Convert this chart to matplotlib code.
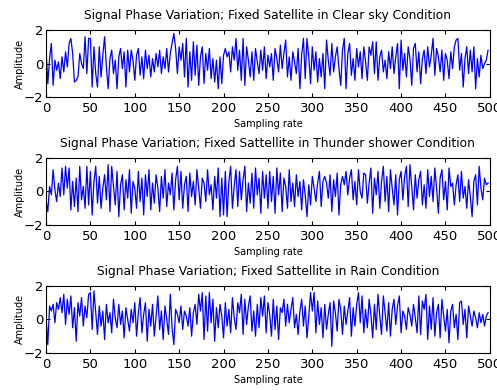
import numpy as np
import matplotlib
matplotlib.use("Agg")
import matplotlib.pyplot as plt

# amplitude, every 2nd sample (0..498)
clear_sky = [
    0.9, -1.2, 0.3, 1.2, -1.3, 0.2, -0.4, 0.1, -0.9, 0.4, -0.5, 0.7,
    -0.2, 1.2, 1.5, 0.6, -1.1, -1.0, -0.8, 0.6, 0.0, -0.3, 1.6, -0.6,
    1.5, 1.5, -1.4, 1.0, -0.6, -1.4, 1.0, -0.8, 0.5, 1.6, -0.2, -1.5,
    0.3, 0.8, -0.6, 0.2, -1.5, 0.4, 0.9, -0.3, 0.7, -1.4, 0.8, -0.5,
    0.8, 0.2, -1.0, 0.5, 0.9, -0.7, 0.4, -0.9, 0.8, -0.3, 0.5, -0.8,
    0.3, -0.5, 0.6, -0.2, 0.8, -0.6, 0.4, -0.3, 0.9, -0.5, 0.6, 1.2,
    1.8, 0.9, -0.6, 1.0, 0.2, 1.2, -0.8, 1.5, -1.4, 0.7, -1.0, 1.3,
    -0.7, 1.1, -1.3, 0.4, 1.0, -1.2, 0.6, -0.4, 0.9, -0.9, 0.3, -1.1,
    0.2, -1.5, 0.4, -1.2, 0.5, 0.9, 0.4, 0.7, -0.5, 1.0, 0.2, 1.5,
    -0.4, 0.8, -1.0, 1.5, -1.3, 1.0, 0.2, -0.8, 0.7, -1.0, 0.9, 0.1,
    -0.6, 0.8, -0.4, 1.0, -0.9, 0.5, -0.2, 0.6, -1.0, 0.9, 0.3, -0.5,
    1.1, -0.3, 0.6, 1.4, -0.8, 0.4, -1.0, 0.7, 0.1, -0.6, 0.9, -1.5,
    0.5, 1.5, -0.9, 1.5, 0.4, -1.2, 1.0, -0.4, 0.7, -1.1, 0.3, -0.8,
    0.6, -1.5, 1.4, 0.2, -0.7, 1.2, -0.5, 0.4, 1.0, -0.3, -1.3, 0.8,
    1.5, -1.5, 0.6, 1.2, -0.7, 0.3, -1.0, 0.9, -0.2, 0.7, -0.9, 1.0,
    0.1, -1.0, 1.0, 0.5, 1.3, -0.6, 1.3, -1.0, 0.4, 0.8, -0.5, 0.2,
    -0.9, 0.7, -0.3, 1.0, -0.6, 0.4, 1.2, -1.5, 1.4, -0.4, 0.6, -0.8,
    1.0, 0.3, -1.3, 0.9, 1.2, -0.5, 0.7, -1.2, 0.3, 0.8, -0.6, 1.0,
    -0.2, 0.5, 1.5, -0.7, 0.9, 0.4, -0.5, 0.8, -1.0, 0.6, 0.2, -0.9,
    0.7, -0.3, 1.0, 1.4, 1.5, -0.4, 0.6, -1.4, 0.3, 1.0, -0.6, 0.8,
    -0.5, 1.0, -1.5, 0.3, -0.8, 0.5, -0.3, 0.0, 0.2, 0.8,
]

thunder = [
    -0.5, -1.2, 0.3, -0.2, 1.3, 0.1, -0.6, 0.5, -0.3, 1.4, -0.2, 1.5,
    0.2, 1.4, -1.1, 0.6, -0.9, 0.8, -1.2, 1.5, -0.5, 0.3, -1.0, 1.5,
    -0.8, 1.2, -1.4, 0.6, 1.5, -0.7, 0.9, -1.0, 0.2, 1.0, -0.5, 1.6,
    -1.2, 1.5, 0.3, -0.8, 1.2, -1.5, 0.4, 1.0, -1.1, 0.7, -0.4, 1.3,
    -1.3, 0.6, 0.2, -1.0, 1.2, -0.6, 0.8, -1.4, 1.0, -0.3, 1.3, -1.1,
    0.5, -0.7, 1.0, 0.2, -1.2, 0.9, -0.4, 1.3, -0.9, 0.5, -0.2, 1.1,
    -1.1, 0.7, 1.5, -0.5, 1.2, -1.0, 0.4, 0.9, -1.2, 1.1, -0.3, 0.6,
    -0.8, 1.3, 0.2, -1.0, 0.8, 0.5, -0.6, 1.3, -0.2, 0.4, -1.1, 0.9,
    -0.4, 1.4, -1.5, 0.8, -1.4, 1.2, -1.5, 0.6, 1.5, -1.0, 0.3, 1.3,
    -0.9, 1.2, -0.5, 0.7, 1.5, -1.2, 0.5, -0.7, 1.1, -1.0, 1.4, -0.2,
    0.8, -1.3, 1.2, -0.4, 1.0, -1.0, 1.2, -0.6, 0.9, -1.3, 1.4, -0.2,
    1.1, -1.2, 0.8, 0.3, -1.0, 1.3, -0.6, 0.5, -0.9, 1.0, -0.3, 0.6,
    -1.1, 0.7, -0.2, -1.5, 0.4, -0.8, 0.9, 0.2, -0.6, 0.5, 1.2, -0.9,
    0.6, 0.9, 0.5, -0.4, 1.0, -1.2, 0.7, -0.3, 1.1, -1.4, 0.4, 0.9,
    0.4, 1.2, -0.2, 0.8, 1.3, -0.5, 0.6, -0.8, 1.3, 0.0, -0.4, 1.1,
    1.0, -0.7, 0.5, 1.4, -1.3, 0.8, -0.2, 1.2, -1.0, 0.6, 1.5, -0.6,
    0.9, -1.2, 1.3, 0.2, -0.8, 1.0, -1.4, 0.7, 1.2, -0.5, 0.9, 1.5,
    -0.9, 1.6, 0.3, -1.1, 1.0, -0.4, 0.7, 1.2, -0.8, 0.4, -1.0, 1.3,
    -0.3, 0.9, -0.6, 1.4, 0.2, -1.3, 0.8, 1.3, -0.5, 0.6, -1.1, 1.4,
    0.3, 0.5, -0.8, 0.4, 1.0, -0.6, 1.2, -0.4, 0.3, -1.0, 0.7, -0.3,
    -1.5, 0.6, 1.0, -0.8, 1.5, 0.2, -0.5, 0.8, 0.4, 0.5,
]

rain = [
    0.2, -1.5, 0.8, 0.5, 0.9, -0.2, 1.0, 0.6, 1.3, 0.4, 1.5, -0.3,
    1.2, 0.3, 1.4, -0.5, 0.7, -1.3, 1.0, 0.2, 1.3, -0.4, 0.8, 0.1,
    1.5, 1.6, -0.6, 1.7, 0.4, -0.9, 0.8, -0.4, 0.5, -1.2, 0.9, -0.2,
    0.4, -0.8, 1.2, 0.1, -0.5, 0.9, -0.3, 0.5, -1.1, 0.7, 0.0, -0.7,
    0.6, -0.2, 1.0, -1.0, 0.4, 1.3, -0.8, 0.3, 1.0, -1.3, 0.6, -0.4,
    0.9, -1.0, 0.2, 1.4, -0.6, 0.5, -1.2, 0.8, 0.0, -0.9, 1.5, -0.5,
    -1.5, 0.6, 0.3, -0.2, 0.8, -0.6, 0.5, 0.2, -0.4, 0.7, -1.0, 0.4,
    0.9, -0.3, 1.5, 0.5, 1.6, -1.2, 1.4, -0.7, 1.6, -0.2, 1.2, -1.3,
    0.7, -0.5, 0.9, 0.2, -1.1, 1.0, -0.4, 0.6, -0.8, 1.3, 0.1, -0.6,
    1.0, 0.4, 1.5, -0.9, 1.2, -0.3, 0.8, 1.4, -0.7, 0.5, -1.0, 0.9,
    -0.5, 1.3, 0.2, 1.4, -0.8, 1.0, 0.3, -1.0, 1.2, -0.6, 0.8, -1.2,
    0.7, 0.4, 1.2, -0.4, 0.9, -0.2, 0.6, 1.3, -0.5, 0.3, -0.9, 0.5,
    1.2, -0.4, 0.8, -1.1, 0.2, 1.6, 0.5, 1.6, -0.8, 1.1, -0.3, 0.7,
    -1.1, 0.9, -0.6, 0.3, 1.0, -1.6, 1.1, 0.4, -0.7, 1.2, 0.6, -0.9,
    0.8, -0.3, 0.5, 1.3, -1.0, 0.7, -0.4, 0.9, 1.6, -0.2, 1.4, -0.8,
    0.6, -0.5, 1.2, 0.3, -1.1, 0.9, -0.6, 1.5, 0.2, -0.9, 1.4, 0.4,
    -0.7, 1.0, -1.0, 0.6, 1.2, -0.3, 0.8, 1.4, -0.8, 0.5, 0.2, -0.6,
    0.7, 0.3, -0.4, 0.9, 0.1, -0.8, 1.4, -0.9, 1.1, 0.6, 1.5, -1.2,
    0.8, -0.6, 1.3, -1.0, 0.4, 0.9, -1.1, 1.2, 0.2, -0.7, 0.6, -1.4,
    0.5, 0.9, -0.5, 0.3, -1.2, 1.0, 1.1, -0.3, 0.6, -1.1, 0.8, 0.2,
    -0.4, 0.5, 0.1, -0.5, 0.4, -0.2, 0.3, -0.4, 0.2, 0.4,
]

titles = [
    "Signal Phase Variation; Fixed Satellite in Clear sky Condition",
    "Signal Phase Variation; Fixed Sattellite in Thunder shower Condition",
    "Signal Phase Variation; Fixed Sattellite in Rain Condition",
]
series = [clear_sky, thunder, rain]

fig = plt.figure(figsize=(4.97, 3.9), dpi=100)
bottoms = [0.751, 0.423, 0.095]

for b, title, y in zip(bottoms, titles, series):
    ax = fig.add_axes([0.0926, b, 0.893, 0.172])
    x = np.arange(len(y)) * 2
    ax.plot(x, y, color="blue", linewidth=0.9)
    ax.set_xlim(0, 500)
    ax.set_ylim(-2, 2)
    ax.set_xticks(range(0, 501, 50))
    ax.set_yticks([-2, 0, 2])
    ax.tick_params(direction="in", top=True, right=True, length=3,
                   labelsize=9.5, pad=3.5)
    ax.tick_params(axis="y", pad=2)
    ax.set_title(title, fontsize=8.8, pad=8)
    ax.set_xlabel("Sampling rate", fontsize=7, labelpad=3)
    ax.set_ylabel("Amplitude", fontsize=7, labelpad=-1)

fig.savefig("out.png", dpi=100)
